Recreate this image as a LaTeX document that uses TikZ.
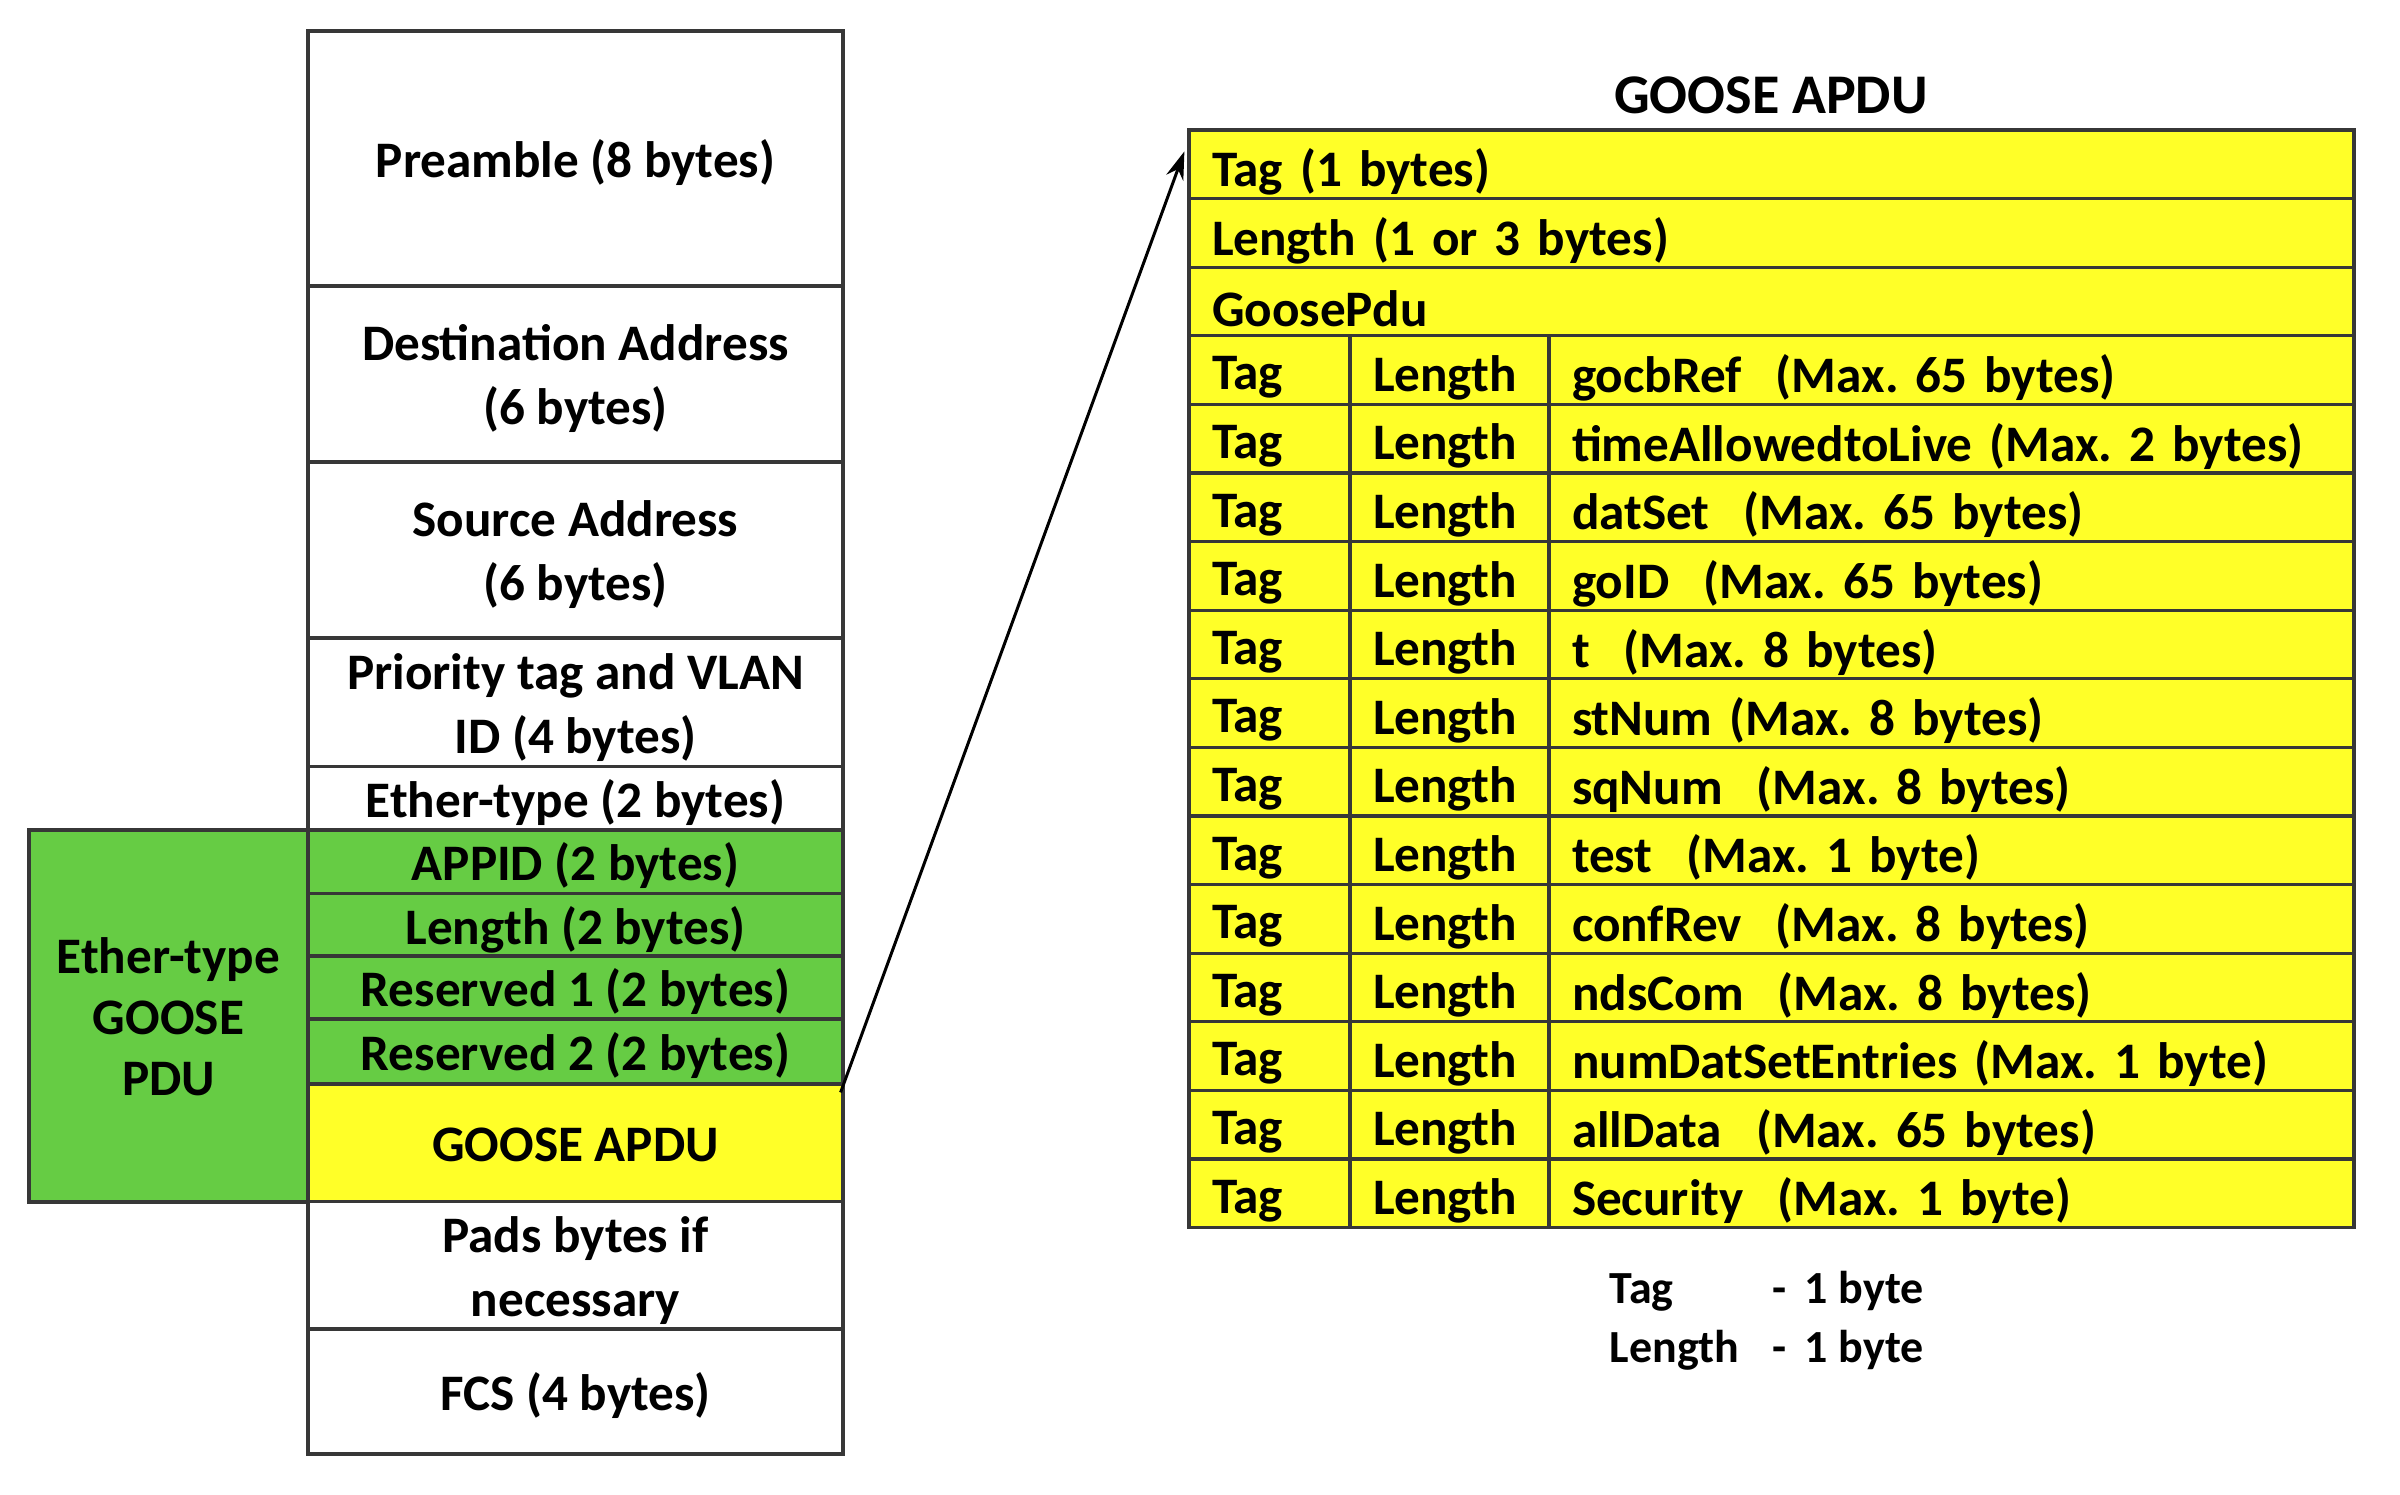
\documentclass[tikz,border=0pt]{standalone}
\usepackage{fontspec}
\setmainfont{Carlito}
\usetikzlibrary{arrows.meta}
\definecolor{gg}{RGB}{102,204,68}
\definecolor{yy}{RGB}{255,255,40}
\definecolor{ln}{RGB}{55,55,55}
\frenchspacing
\newcommand\cellfont{\bfseries\fontsize{12.8}{16}\selectfont}
\tikzset{
  box/.style={draw=ln, line width=0.8pt, rectangle, inner sep=0pt, align=center, font=\cellfont},
  rbox/.style={draw=ln, line width=0.8pt, rectangle, fill=yy, inner xsep=5.75pt, inner ysep=0pt, align=left, font=\cellfont},
  conn/.style={line width=0.75pt, -{Stealth[length=7pt,width=4.5pt]}},
  plain/.style={font=\cellfont, inner sep=0pt}
}
% name, x1, y1, x2, y2, fill, text
\newcommand\bx[7]{\node[box,fill=#6,minimum width={(#4-#2)*0.25pt},minimum height={(#5-#3)*0.25pt}] (#1) at ({(#2+#4)/2},{(#3+#5)/2}) {\raisebox{-1.55pt}[\height][\depth]{\begin{tabular}{@{}c@{}}#7\end{tabular}}};}
% name, x1, y1, x2, y2, text  (left aligned, yellow)
\newcommand\rx[6]{\node[rbox,text width={(#4-#2-46)*0.25pt},minimum height={(#5-#3)*0.25pt}] (#1) at ({(#2+#4)/2},{(#3+#5)/2}) {\raisebox{-1.9pt}[\height][\depth]{#6}};}
\begin{document}
\begin{tikzpicture}[x=0.25pt,y=-0.25pt]
\useasboundingbox (0,0) rectangle (2400,1495);
% green group
\node[box,fill=gg,minimum width={279*0.25pt},minimum height={372*0.25pt},font=\bfseries\fontsize{12.8}{15.3}\selectfont] (grp) at (168.5,1016) {\raisebox{-1.55pt}[\height][\depth]{\begin{tabular}{@{}c@{}}Ether-type\\GOOSE\\PDU\end{tabular}}};
% left column
\bx{pre}{308}{31}{843}{286}{white}{Preamble (8 bytes)}
\bx{dst}{308}{286}{843}{462}{white}{Destination Address\\(6 bytes)}
\bx{src}{308}{462}{843}{638}{white}{Source Address\\(6 bytes)}
\bx{pri}{308}{638}{843}{767}{white}{Priority tag and VLAN\\ID (4 bytes)}
\bx{eth}{308}{767}{843}{830}{white}{Ether-type (2 bytes)}
\bx{appid}{308}{830}{843}{894}{gg}{APPID (2 bytes)}
\bx{len}{308}{894}{843}{957}{gg}{Length (2 bytes)}
\bx{resa}{308}{957}{843}{1019}{gg}{Reserved 1 (2 bytes)}
\bx{resb}{308}{1019}{843}{1084}{gg}{Reserved 2 (2 bytes)}
\bx{apdu}{308}{1084}{843}{1202}{yy}{GOOSE APDU}
\bx{pad}{308}{1202}{843}{1329}{white}{Pads bytes if\\necessary}
\bx{fcs}{308}{1329}{843}{1454}{white}{FCS (4 bytes)}
% right table
\node[plain,font=\bfseries\fontsize{14}{16}\selectfont] (title) at (1771,95) {GOOSE APDU};
\rx{h1}{1189}{130}{2354}{198.6}{Tag (1 bytes)}
\rx{h2}{1189}{198.6}{2354}{267.2}{Length (1 or 3 bytes)}
\rx{h3}{1189}{267.2}{2354}{335.8}{GoosePdu}
\foreach \i/\txt in {3/{gocbRef~ (Max. 65 bytes)},4/{timeAllowedtoLive (Max. 2 bytes)},5/{datSet~ (Max. 65 bytes)},6/{goID~ (Max. 65 bytes)},7/{t~ (Max. 8 bytes)},8/{stNum (Max. 8 bytes)},9/{sqNum~ (Max. 8 bytes)},10/{test~ (Max. 1 byte)},11/{confRev~ (Max. 8 bytes)},12/{ndsCom~ (Max. 8 bytes)},13/{numDatSetEntries (Max. 1 byte)},14/{allData~ (Max. 65 bytes)},15/{Security~ (Max. 1 byte)}}{
  \pgfmathsetmacro\ya{130+\i*68.6}
  \pgfmathsetmacro\yb{130+(\i+1)*68.6}
  \rx{t\i}{1189}{\ya}{1350}{\yb}{Tag}
  \rx{l\i}{1350}{\ya}{1549}{\yb}{Length}
  \rx{f\i}{1549}{\ya}{2354}{\yb}{\txt}
}
% legend
\node[plain,anchor=north west,align=left,font=\bfseries\fontsize{11.5}{14.8}\selectfont] (legend) at (1609,1270) {\makebox[40.75pt][l]{Tag}- \,1 byte\\\makebox[40.75pt][l]{Length}- \,1 byte};
% connector
\draw[conn] ([shift={(-1pt,-2.5pt)}]apdu.north east) -- ([shift={(-0.75pt,-5.75pt)}]h1.north west);
\end{tikzpicture}
\end{document}
